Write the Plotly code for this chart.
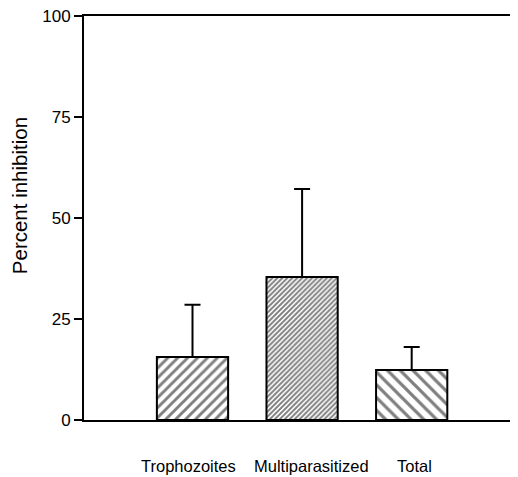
import plotly.graph_objects as go

categories = ["Trophozoites", "Multiparasitized", "Total"]
values = [15.6, 35.4, 12.4]
err_plus = [12.9, 21.8, 5.7]
err_minus = [0, 0, 0]
y_ticks = [0, 25, 50, 75, 100]
y_title = "Percent inhibition"
patterns = ["/", "/", "\\"]
pattern_sizes = [7, 3.5, 9]
pattern_solidity = [0.42, 0.55, 0.36]
label_xshift = [-4, 9, 3]

x_pos = list(range(len(categories)))

fig = go.Figure()
fig.add_trace(go.Bar(
    x=x_pos,
    y=values,
    width=0.65,
    marker=dict(
        color="white",
        line=dict(color="black", width=2),
        pattern=dict(shape=patterns, size=pattern_sizes, solidity=pattern_solidity,
                     fgcolor="black", bgcolor="white", fillmode="overlay"),
    ),
    error_y=dict(type="data", symmetric=False, array=err_plus, arrayminus=err_minus,
                 color="black", thickness=2, width=8),
    showlegend=False,
))

font_family = "Liberation Sans, Arial, Helvetica, sans-serif"

annotations = []
for xi, lab, sh in zip(x_pos, categories, label_xshift):
    annotations.append(dict(
        x=xi, xref="x", y=0, yref="paper", text=lab, showarrow=False,
        xanchor="center", yanchor="middle", xshift=sh, yshift=-46,
        font=dict(size=16.5, family=font_family, color="black"),
    ))
annotations.append(dict(
    x=0, xref="paper", y=0.554, yref="paper", text=y_title, showarrow=False,
    textangle=-90, xanchor="center", yanchor="middle", xshift=-65,
    font=dict(size=20.5, family=font_family, color="black"),
))

fig.update_layout(
    width=510, height=469,
    margin=dict(l=76, r=0, t=8, b=57),
    paper_bgcolor="white", plot_bgcolor="white",
    font=dict(family=font_family, color="black", size=16),
    annotations=annotations,
    xaxis=dict(
        range=[-0.99, 2.97],
        tickvals=x_pos, showticklabels=False,
        showline=True, linecolor="black", linewidth=2, mirror=True,
        ticks="", showgrid=False, zeroline=False,
    ),
    yaxis=dict(
        range=[0, 100],
        tickvals=y_ticks,
        showline=True, linecolor="black", linewidth=2,
        ticks="outside", ticklen=8, tickwidth=2, tickcolor="black",
        showgrid=False, zeroline=False,
        ticklabeloverflow="allow",
        tickfont=dict(size=17),
    ),
)

fig.write_html("out.html")
